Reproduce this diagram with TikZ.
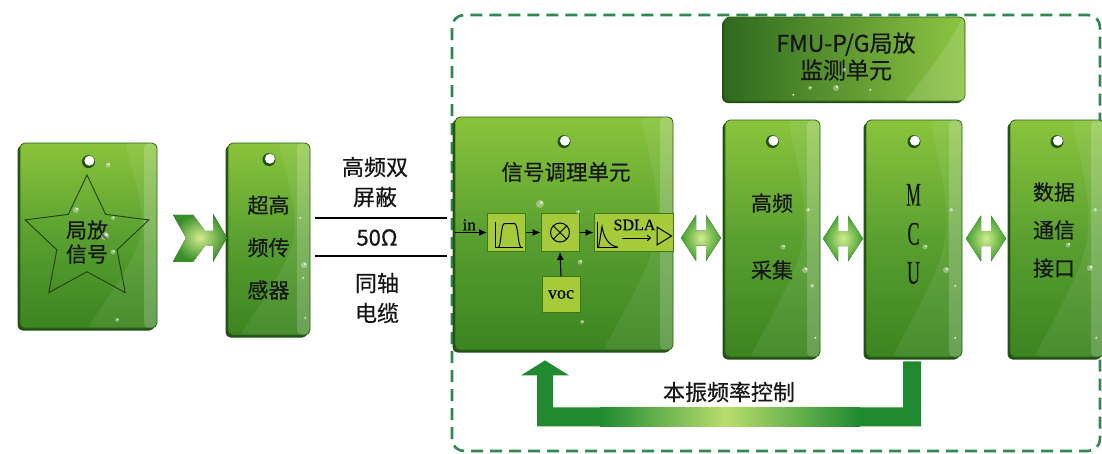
\documentclass[tikz,border=0pt]{standalone}
\usepackage{fontspec}
\usepackage{graphicx}
\setmainfont{Noto Sans CJK SC}[FakeBold=0.5]
\newfontfamily\serifrm{Liberation Serif}[FakeBold=0.3]
\usetikzlibrary{shapes.geometric,shadows,calc,arrows.meta}

\definecolor{tagtop}{HTML}{8AC43C}
\definecolor{tagmid}{HTML}{5AA030}
\definecolor{tagbot}{HTML}{3B8420}
\definecolor{tagedge}{HTML}{2A6318}
\definecolor{tagshadow}{HTML}{244F17}
\definecolor{framegreen}{HTML}{2E8A50}
\definecolor{boxfill}{HTML}{A6CB3A}
\definecolor{boxedge}{HTML}{3E7A1A}
\definecolor{fbdark}{HTML}{1F8A30}
\definecolor{fblight}{HTML}{B9DD6E}
\definecolor{arrlight}{HTML}{D4EC8E}
\definecolor{arrdark}{HTML}{3E9E2E}
\definecolor{fmuleft}{HTML}{2F6A1F}
\definecolor{fmuright}{HTML}{8DC542}
\definecolor{ink}{HTML}{161616}
\definecolor{staredge}{HTML}{223F14}

% water drop on a glossy tag
\newcommand\wdrop[3]{%
  \fill[white,opacity=0.35] (#1,#2) circle (#3pt);
  \fill[white,opacity=0.85] (#1+0.35*#3,#2-0.35*#3) circle (0.4*#3pt);}
% punched hole near the top of a tag
\newcommand\taghole[2]{%
  \fill[tagshadow] ([yshift=-#2pt]#1.north) circle (6.5pt);
  \fill[white] ([shift={(0.9pt,-#2pt+0.9pt)}]#1.north) circle (5pt);}

\begin{document}
\begin{tikzpicture}[x=1pt,y=-1pt,
  tag/.style={rounded corners=5pt, draw=tagedge, line width=0.8pt,
    top color=tagtop, bottom color=tagbot, middle color=tagmid, inner sep=0pt,
    general shadow={fill=tagshadow, shadow xshift=-2.5pt, shadow yshift=-2.5pt},
    path picture={
      \fill[white,opacity=0.18,draw=none] ([xshift=-13pt]path picture bounding box.north east)
        rectangle (path picture bounding box.south east);
      \fill[white,opacity=0.07,draw=none] ([xshift=-32pt]path picture bounding box.north east)
        .. controls ([xshift=-6pt]path picture bounding box.east) ..
        ([xshift=-70pt]path picture bounding box.south east)
        -- (path picture bounding box.south east) -- (path picture bounding box.north east) -- cycle;}},
  fmubox/.style={rounded corners=6pt, draw=tagedge, line width=0.8pt,
    left color=fmuleft, right color=fmuright, inner sep=0pt,
    general shadow={fill=tagshadow, shadow xshift=-2pt, shadow yshift=-2pt}},
  tagtext/.style={text=ink, align=center, inner sep=0pt},
  blk/.style={draw=boxedge, fill=boxfill, line width=1pt, inner sep=0pt},
  sig/.style={-{Latex[length=8pt,width=7pt]}, line width=1.1pt, black},
  cable/.style={line width=1.6pt, black},
  frame/.style={draw=framegreen, line width=2.6pt, dash pattern=on 12pt off 7pt, rounded corners=12pt},
  fatarrow/.style={inner color=arrlight, outer color=arrdark},
  feedback/.style={fill=fbdark}]

\useasboundingbox (0,0) rectangle (1102,453);
\fill[white] (0,0) rectangle (1102,453);
\clip (0,0) rectangle (1102,453);

% dashed outline of the monitoring unit
\draw[frame] (452,451) -- (452,15) -- (1100,15) -- (1100,451) -- cycle;

% signal source tag with star
\node[tag, minimum width=137pt, minimum height=185pt] (sig) at (88.5,235.5) {};
\taghole{sig}{19}
\node[star, star points=5, star point ratio=2.05, draw=staredge, line width=0.9pt,
  minimum size=130pt, inner sep=0pt] (star) at (87,240) {};
\node[tagtext, font=\fontsize{21}{24}\selectfont] (sigtxt) at (87,242) {局放\\信号};

% sensor tag
\node[tag, minimum width=82pt, minimum height=192pt] (sen) at (269,239) {};
\taghole{sen}{17}
\node[tagtext, font=\fontsize{21}{42.5}\selectfont] (sentxt) at (268.5,247.5) {超高\\频传\\感器};

% chevron arrow from source to sensor
\coordinate (m1) at ($(sig.east)!0.5!(sen.west)$);
\begin{scope}[shift={(m1)}]
  \fill[inner color=arrlight, outer color=arrdark!90!black]
    (-19.5,-22.5) -- (0.5,-22.5) -- (12.5,-6.5) -- (20.5,-6.5) -- (20.5,-23.5) -- (34.5,0.5)
    -- (20.5,24.5) -- (20.5,8.5) -- (12.5,8.5) -- (0.5,24.5) -- (-19.5,24.5) -- (-6.5,0.5) -- cycle;
\end{scope}

% signal conditioning tag
\node[tag, minimum width=218pt, minimum height=233pt] (cond) at (564,233.5) {};
\taghole{cond}{25}
\node[tagtext, font=\fontsize{21.5}{22}\selectfont] (condtxt) at (566,172) {信号调理单元};

% coaxial cable between sensor and conditioning unit
\coordinate (cabA) at ([shift={(5,-21)}]sen.east);
\coordinate (cabB) at ([shift={(5,17)}]sen.east);
\coordinate (condw) at ([xshift=-8pt]cond.west);
\draw[cable] (cabA) -- (cabA -| condw);
\draw[cable] (cabB) -- (cabB -| condw);
\node[tagtext, font=\fontsize{22}{30}\selectfont] (cab1) at (375,182) {高频双\\屏蔽};
\node[tagtext, font=\fontsize{22}{24}\selectfont] (cab2) at (377,237.5) {50Ω};
\node[tagtext, font=\fontsize{22}{30}\selectfont] (cab3) at (377,298) {同轴\\电缆};

% inner signal chain
\node[blk, minimum width=38pt, minimum height=38pt] (f1) at (506.5,232.5) {};
\node[blk, minimum width=38pt, minimum height=38pt] (mx) at (560,232.5) {};
\node[blk, minimum width=79pt, minimum height=38pt] (sd) at (633.5,232.5) {};
\node[blk, minimum width=38pt, minimum height=36pt, font=\serifrm\fontsize{18}{18}\selectfont] (voc) at (561,294.5) {voc};
\draw[sig] (cond.west |- f1.west) -- node[above, font=\serifrm\fontsize{17}{17}\selectfont, pos=0.45, inner sep=1.5pt] (intxt) {in} (f1.west);
\draw[sig] (f1.east) -- (mx.west);
\draw[sig] (mx.east) -- (sd.west);
\draw[sig] (voc.north) -- (mx.south);

\begin{scope}[shift={(f1.center)}, line width=1pt]
  \draw (-11.5,-11) -- (-11.5,15) -- (16.5,15);
  \draw (-8.5,15) .. controls (-5,15) and (-6,-9) .. (-2,-9) -- (8,-9)
        .. controls (12,-9) and (11,15) .. (15,15);
\end{scope}
\begin{scope}[shift={(mx.center)}, line width=1pt]
  \draw (0,0) circle (9.5pt);
  \draw (-6.7,-6.7) -- (6.7,6.7) (-6.7,6.7) -- (6.7,-6.7);
\end{scope}
\begin{scope}[shift={(sd.center)}, line width=1pt]
  \draw (-36.5,-11) -- (-36.5,15) -- (-16,15);
  \draw (-35,15) .. controls (-33,5) and (-32,-4) .. (-31.5,-6)
        .. controls (-30,3) and (-26,13) .. (-16,14.5);
  \node[font=\serifrm\fontsize{16}{16}\selectfont, inner sep=0pt] (sdtxt) at (1,-7.5) {SDLA};
  \draw[-{To[length=4pt,width=6pt]}] (-11.5,5.5) -- (17.5,5.5);
  \draw (23.5,-5.5) -- (23.5,12.5) -- (38,3.5) -- cycle;
\end{scope}

% monitoring unit header
\node[fmubox, minimum width=241pt, minimum height=84pt] (fmu) at (844.5,59) {};
\fill[white,opacity=0.12] ([shift={(-60pt,0pt)}]fmu.south east) .. controls ([shift={(-20pt,10pt)}]fmu.east) .. ([xshift=-2pt]fmu.north east) -- (fmu.south east) -- cycle;
\node[tagtext, font=\fontsize{23}{27}\selectfont] (fmutxt) at (846,56.5) {FMU-P/G局放\\监测单元};

% acquisition, MCU and communication tags
\node[tag, minimum width=95pt, minimum height=237pt] (acq) at (772.5,238.5) {};
\taghole{acq}{22}
\node[tagtext, font=\fontsize{21}{67}\selectfont] (acqtxt) at (772,236.5) {高频\\采集};

\node[tag, minimum width=96pt, minimum height=237pt] (mcu) at (914,238.5) {};
\taghole{mcu}{22}
\node[tagtext, font=\serifrm\fontsize{33}{39}\selectfont] (mcutxt) at (913.5,234)
  {\scalebox{0.5}[1]{M}\\\scalebox{0.55}[1]{C}\\\scalebox{0.55}[1]{U}};

\node[tag, minimum width=94pt, minimum height=237pt] (com) at (1057,238.5) {};
\taghole{com}{22}
\node[tagtext, font=\fontsize{21}{38}\selectfont] (comtxt) at (1054,230) {数据\\通信\\接口};

% bidirectional links between the units
\coordinate (a1) at ([shift={(2,2)}]$(cond.east)!0.5!(acq.west)$);
\coordinate (a2) at ($(acq.east)!0.5!(mcu.west)$);
\coordinate (a3) at ($(mcu.east)!0.5!(com.west)$);
\foreach \c in {a1,a2,a3}{
  \begin{scope}[shift={(\c)}]
    \fill[fatarrow] (-20,0) -- (-5,-23) -- (-5,-7.5) -- (5,-7.5) -- (5,-23) -- (20,0)
      -- (5,23) -- (5,7.5) -- (-5,7.5) -- (-5,23) -- cycle;
  \end{scope}}

% local oscillator control loop from MCU back to conditioning unit
\coordinate (fbA) at ([shift={(-11,4)}]mcu.south);
\coordinate (fbT) at ([shift={(-19,10)}]cond.south);
\fill[feedback] (fbA) -- ++(18,0) -- ++(0,65) -- ($(fbT)+(-8,66)$) -- ($(fbT)+(-8,15)$)
  -- ($(fbT)+(-24,15)$) -- (fbT) -- ($(fbT)+(24,15)$) -- ($(fbT)+(8,15)$)
  -- ($(fbT)+(8,47)$) -- ($(fbA)+(0,46)$) -- cycle;
\shade[left color=fbdark, right color=fblight] (600,407) rectangle (725,426);
\shade[left color=fblight, right color=fbdark] (725,407) rectangle (860,426);
\node[tagtext, font=\fontsize{22}{24}\selectfont] (fbtxt) at (729,392) {本振频率控制};

% water drops
\wdrop{108}{165}{2.5} \wdrop{76}{210}{3} \wdrop{113}{218}{2} \wdrop{105}{236}{4}
\wdrop{113}{252}{2.5} \wdrop{117}{320}{2}
\wdrop{300}{218}{1.5} \wdrop{304}{265}{3} \wdrop{303}{278}{1.5} \wdrop{305}{318}{1.5}
\wdrop{540}{204}{4} \wdrop{578}{212}{2} \wdrop{580}{262}{2.5} \wdrop{582}{322}{2}
\wdrop{808}{210}{2} \wdrop{783}{247}{2.5} \wdrop{805}{270}{3} \wdrop{812}{286}{2}
\wdrop{815}{338}{1.5}
\wdrop{951}{210}{2} \wdrop{925}{247}{2.5} \wdrop{946}{270}{3} \wdrop{955}{286}{1.5}
\wdrop{955}{338}{1.5}
\wdrop{1095}{210}{2} \wdrop{1068}{245}{2.5} \wdrop{1090}{268}{3} \wdrop{1096}{338}{1.5}
\wdrop{810}{88}{2} \wdrop{793}{95}{1.5} \wdrop{836}{88}{3} \wdrop{844}{70}{2} \wdrop{870}{90}{1.5}
\end{tikzpicture}
\end{document}
